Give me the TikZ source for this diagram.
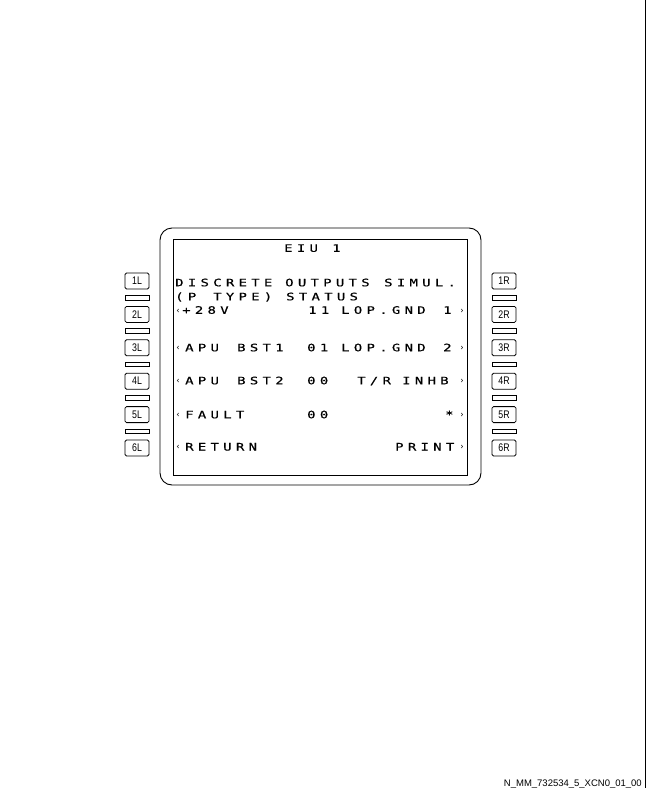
\documentclass[tikz,border=0pt]{standalone}
\usepackage{fontspec}
\usepackage{graphicx}
\usepackage{tikz}
\newfontfamily\cdufont[LetterSpace=31,FakeBold=0.4]{DejaVu Sans Mono}
\newfontfamily\keyfont[FakeStretch=0.8]{Liberation Sans}
\newfontfamily\caretfont{DejaVu Sans}
\newfontfamily\footfont{Liberation Sans}
\tikzset{
  cdu/.style={anchor=base west, inner sep=0pt, font=\cdufont\fontsize{10.3bp}{12bp}\selectfont},
  caret/.style={inner sep=0pt, font=\caretfont\fontsize{8.5bp}{9bp}\selectfont},
  lsk/.style={draw, rounded corners=1.5bp, line width=0.8bp, minimum width=24bp, minimum height=16bp, inner sep=0pt, font=\keyfont\fontsize{11bp}{12bp}\selectfont},
  gap/.style={draw, line width=0.8bp, minimum width=24bp, minimum height=4.5bp, inner sep=0pt},
}
\newcommand{\cdurow}[3]{
  \foreach[count=\i] \x/\w in {#3} {
    \node[cdu] (#1-\i) at (\x,#2) {\scalebox{1.35}[1]{\w}};
  }
}

\begin{document}
\begin{tikzpicture}[x=1bp,y=-1bp]
      \useasboundingbox (0,0) rectangle (648,792);
      \draw[line width=0.9bp, rounded corners=12bp] (160,228) rectangle (481,485);
      \draw[line width=1bp] (173.5,239.5) rectangle (467,475.5);
      \cdurow{title}{251.8}{284/EIU,332/1}
      \cdurow{ra}{286.3}{175/DISCRETE,285/OUTPUTS,384/SIMUL.}
      \cdurow{rb}{300.3}{175/(P,213/TYPE),286/STATUS}
      \cdurow{rc}{313.8}{182/+28V,308/11,341/LOP.GND,443/1}
      \cdurow{rd}{351.3}{185/APU,237/BST1,307/01,341/LOP.GND,443/2}
      \cdurow{re}{384.3}{185/APU,237/BST2,307/00,357/{T/R},402/INHB}
      \cdurow{rf}{418.3}{185/FAULT,307/00,445/*}
      \cdurow{rg}{450.5}{185/RETURN,395/PRINT}
      \foreach[count=\i] \y in {310,347.5,380.5,414.5,446.7} {
        \node[caret] (lc\i) at (178,\y+1) {‹};
        \node[caret] (rc\i) at (462,\y+1) {›};
      }
      \foreach[count=\i] \y in {281,314.4,347.8,381.2,414.6,448} {
        \node[lsk] (l\i) at (137,\y) {\i L};
        \node[lsk] (r\i) at (504,\y) {\i R};
      }
      \foreach[evaluate=\i as \j using int(\i+1)] \i in {1,...,5} {
        \path (l\i) -- (l\j) node[gap, midway] (lg\i) {};
        \path (r\i) -- (r\j) node[gap, midway] (rg\i) {};
      }
      \draw[line width=1bp] (645.5,0) -- (645.5,788);
      \node[anchor=base east, inner sep=0pt, font=\footfont\fontsize{9.5bp}{11bp}\selectfont] (ref) at (642,786.5) {N\_MM\_732534\_5\_XCN0\_01\_00};
    \end{tikzpicture}
\end{document}
